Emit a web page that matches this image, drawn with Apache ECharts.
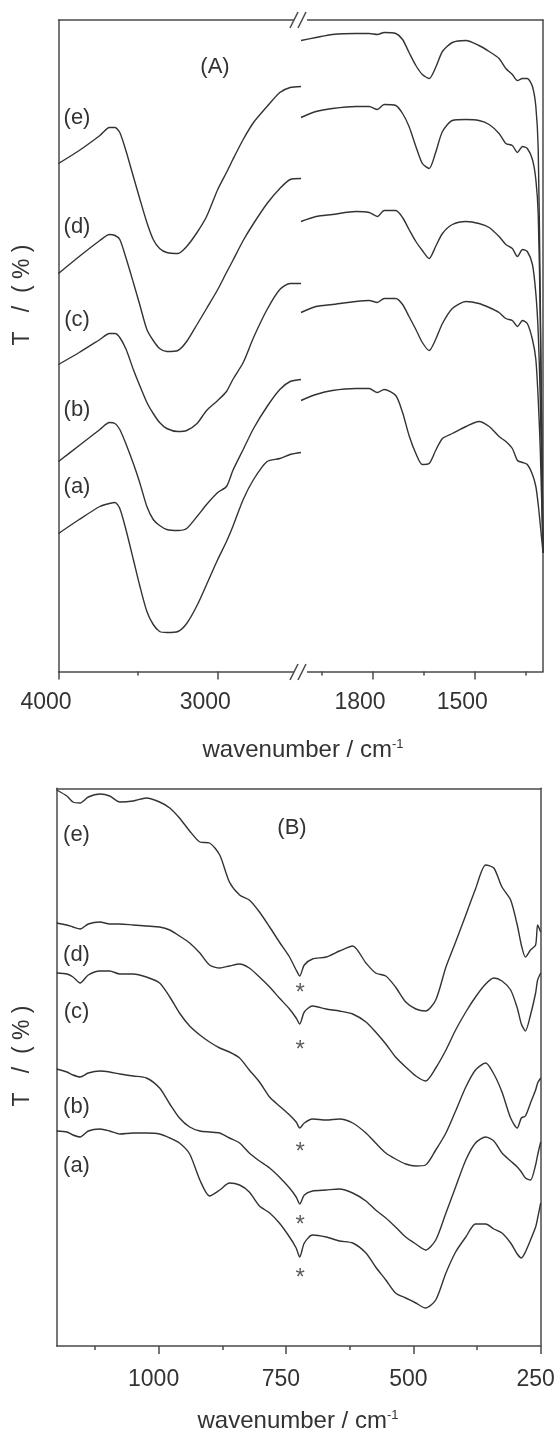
<!DOCTYPE html>
<html><head><meta charset="utf-8">
<script src="https://cdn.jsdelivr.net/npm/echarts@6/dist/echarts.min.js"></script>
<style>html,body{margin:0;padding:0;background:#fff}#c{width:558px;height:1434px}</style>
</head><body><div id="c"></div>
<script>
// ---------- Panel A, 4000-2477 cm-1 segment ----------
const aHighWn = [4000,3870,3740,3680,3645,3615,3575,3530,3490,3445,3405,3365,3320,3250,3195,3130,3070,3000,2945,2905,2840,2775,2690,2610,2545,2477];
const aHigh_e = [508,521,536,544,544,539,520,495,473,449,432,423,419,418,425,439,455,482,499,512,532,549,565,579,584,585];
const aHigh_d = [398,415,431,437,436,432,413,389,367,342,331,323,320,321,330,347,363,382,399,411,431,448,468,483,492,493];
const aHigh_c = [307,319,332,338,338,334,322,302,286,269,258,249,243,240,241,248,261,271,280,292,309,334,362,382,388,388];
const aHigh_b = [210,226,242,249,248,242,227,208,189,165,152,146,142,141,143,155,167,179,185,201,222,243,265,282,290,292];
const aHigh_a = [138,152,165,168,169,163,141,112,86,60,47,40,39,40,48,66,87,112,130,145,172,192,210,213,217,219];

// ---------- Panel A, 2010-1300 cm-1 segment ----------
const aLowWn = [2010,1966,1918,1849,1810,1786,1766,1732,1712,1693,1673,1654,1634,1615,1595,1566,1526,1488,1458,1429,1409,1390,1375,1360,1346,1331,1321,1314,1308,1300];
const aLow_e = [631,634,637,638,638,637,639,638,632,619,606,597,593,604,620,629,631,626,620,613,603,597,591,593,593,585,565,522,372,119];
const aLow_d = [554,560,563,565,565,562,567,566,558,545,525,508,503,519,540,551,552,551,547,538,528,526,519,525,523,512,492,457,352,119];
const aLow_c = [450,455,457,460,459,455,461,461,454,442,430,421,413,425,438,447,450,448,444,435,427,423,415,422,420,407,378,339,272,119];
const aLow_b = [359,365,367,370,371,369,373,373,367,355,342,329,321,332,348,363,370,368,364,359,353,351,345,351,348,332,312,272,222,119];
const aLow_a = [271,277,281,283,283,279,282,276,259,236,218,207,208,221,233,238,245,250,245,235,230,223,211,209,207,197,185,167,147,119];

// ---------- Panel B, 1200-250 cm-1 ----------
const bWn = [1200,1180,1168,1154,1138,1115,1096,1076,1050,1024,998,978,959,939,919,900,880,861,841,822,802,782,763,743,730,723,714,698,671,645,619,593,574,554,535,515,495,476,456,436,417,397,378,358,342,326,309,296,288,280,270,260,256,250];
const b_e = [556,550,544,543,549,552,550,544,545,548,544,538,528,515,504,503,491,464,451,446,434,419,404,389,376,370,381,387,389,395,400,383,373,370,359,344,337,335,346,379,404,431,457,481,478,459,446,421,401,389,396,401,421,414];
const b_d = [423,421,419,417,422,424,422,422,421,420,419,416,410,403,393,381,378,380,382,378,369,359,348,337,328,322,334,340,337,335,332,324,314,302,289,279,270,265,278,296,316,334,349,362,368,365,356,338,322,315,331,353,366,373];
const b_c = [373,372,369,363,371,375,375,372,372,369,363,349,333,320,311,304,298,294,288,276,264,249,240,231,224,218,223,227,226,227,223,213,203,193,187,182,180,181,196,213,235,259,276,283,272,254,228,218,228,230,243,256,263,268];
const b_b = [277,274,271,269,273,275,274,272,270,268,258,242,228,219,215,214,213,208,203,193,185,178,169,158,149,142,151,155,156,157,153,145,136,128,119,109,102,96,106,133,159,186,203,209,205,193,185,179,174,168,166,181,191,204];
const b_a = [215,214,211,209,215,217,215,212,213,213,212,208,203,192,166,150,156,163,161,154,140,133,123,109,98,89,103,111,109,105,103,93,79,66,53,48,43,38,46,73,94,109,122,122,117,113,103,92,88,94,106,119,128,143];

// asterisk markers (band near 722 cm-1) for curves e,d,c,b,a
const starWn = [722,722,722,722,722];
const starVal = [358,301,199,126,73];

// tick values / labels
const aHighMajor = [4000,3000], aHighMinor = [3500];
const aLowMajor = [1800,1500], aLowMinor = [1950,1650,1350];
const bMajor = [1000,750,500,250], bMinor = [1125,875,625,375];
const curveLabels = ['(e)','(d)','(c)','(b)','(a)'];

const FONT = '"Liberation Sans", Arial, Helvetica, sans-serif';
const INK = '#333333';
const AX = '#4a4a4a';

function pts(xs, ys){ return xs.map((x,i)=>[x, ys[i]]); }

const chart = echarts.init(document.getElementById('c'), null, {renderer:'canvas'});

function xMajor(grid, min, max, ticks, pad, margin){
  return {type:'value', gridIndex:grid, position:'bottom', inverse:true, min, max,
    axisLine:{show:true,onZero:false,lineStyle:{color:AX,width:1.5}},
    axisTick:{show:true,customValues:ticks,length:8,lineStyle:{color:AX,width:1.5}},
    axisLabel:{show:true,customValues:ticks,formatter:v=>String(v),fontSize:23,fontFamily:FONT,color:'#333',margin,padding:[0,pad,0,0]},
    splitLine:{show:false}};
}
function xMinor(grid, min, max, ticks){
  return {type:'value', gridIndex:grid, position:'bottom', inverse:true, min, max,
    axisLine:{show:false,onZero:false},
    axisTick:{show:true,customValues:ticks,length:4,lineStyle:{color:AX,width:1.5}},
    axisLabel:{show:false}, splitLine:{show:false}};
}
function xTop(grid, min, max){
  return {type:'value', gridIndex:grid, position:'top', inverse:true, min, max,
    axisLine:{show:true,onZero:false,lineStyle:{color:AX,width:1.5}},
    axisTick:{show:false}, axisLabel:{show:false}, splitLine:{show:false}};
}
function yLine(grid, pos, max){
  return {type:'value', gridIndex:grid, position:pos, min:0, max,
    axisLine:{show:true,onZero:false,lineStyle:{color:AX,width:1.5}},
    axisTick:{show:false}, axisLabel:{show:false}, splitLine:{show:false}};
}
function line(xi, yi, data){
  return {type:'line', xAxisIndex:xi, yAxisIndex:yi, data, showSymbol:false, symbol:'none',
    smooth:0.25, lineStyle:{color:INK,width:1.4}, silent:true, animation:false};
}

const series = [];
[aHigh_e,aHigh_d,aHigh_c,aHigh_b,aHigh_a].forEach(a=>series.push(line(0,0,pts(aHighWn,a))));
[aLow_e,aLow_d,aLow_c,aLow_b,aLow_a].forEach(a=>series.push(line(3,1,pts(aLowWn,a))));
[b_e,b_d,b_c,b_b,b_a].forEach(a=>series.push(line(6,2,pts(bWn,a))));
series.push({type:'scatter', xAxisIndex:6, yAxisIndex:2, data:pts(starWn,starVal), symbolSize:0,
  label:{show:true, position:'inside', formatter:'*', fontSize:24, fontFamily:FONT, color:'#333', offset:[0,5]},
  silent:true, animation:false});

function txt(x, y, text, size, extra){
  return Object.assign({type:'text', x, y, z:100, silent:true,
    style:{text, fontSize:size, fontFamily:FONT, fill:'#333', align:'center', verticalAlign:'middle',
      textAlign:'center', textVerticalAlign:'middle'}}, extra||{});
}
function seg(x1,y1,x2,y2){
  return {type:'line', z:101, silent:true, shape:{x1,y1,x2,y2}, style:{stroke:AX, lineWidth:1.5}};
}
const graphics = [
  {type:'rect', z:100, silent:true, shape:{x:294,y:15,width:13,height:10}, style:{fill:'#fff'}},
  {type:'rect', z:100, silent:true, shape:{x:294,y:667,width:13,height:10}, style:{fill:'#fff'}},
  seg(290,28,298,12), seg(298,28,306,12),
  seg(290,680,298,664), seg(298,680,306,664),
  txt(215,67,'(A)',22),
  txt(292,828,'(B)',22),
  {type:'text', x:23, y:295, rotation:Math.PI/2, z:100, silent:true,
    style:{text:'T   /  ( % )', fontSize:23, fontFamily:FONT, fill:'#333', align:'center', verticalAlign:'middle', textAlign:'center', textVerticalAlign:'middle'}},
  {type:'text', x:23, y:1056, rotation:Math.PI/2, z:100, silent:true,
    style:{text:'T   /  ( % )', fontSize:23, fontFamily:FONT, fill:'#333', align:'center', verticalAlign:'middle', textAlign:'center', textVerticalAlign:'middle'}},
  {type:'text', x:303, y:750, z:100, silent:true,
    style:{text:'{m|wavenumber / cm}{s|-1}', align:'center', verticalAlign:'middle', textAlign:'center', textVerticalAlign:'middle',
      rich:{m:{fontSize:24,fontFamily:FONT,fill:'#333',color:'#333'}, s:{fontSize:13,fontFamily:FONT,fill:'#333',color:'#333',verticalAlign:'top'}}}},
  {type:'text', x:298, y:1421, z:100, silent:true,
    style:{text:'{m|wavenumber / cm}{s|-1}', align:'center', verticalAlign:'middle', textAlign:'center', textVerticalAlign:'middle',
      rich:{m:{fontSize:24,fontFamily:FONT,fill:'#333',color:'#333'}, s:{fontSize:13,fontFamily:FONT,fill:'#333',color:'#333',verticalAlign:'top'}}}}
];
const aLabY = [118,227,320,410,487];
const bLabY = [835,955,1012,1107,1166];
curveLabels.forEach((t,i)=>{ graphics.push(txt(77,aLabY[i],t,22)); graphics.push(txt(76.5,bLabY[i],t,22)); });

chart.setOption({
  animation:false,
  backgroundColor:'#fff',
  grid:[
    {left:58.5, top:20, width:242.5, height:651.5},
    {left:301, top:20, width:242, height:651.5},
    {left:56.7, top:788.3, width:484, height:557.7}
  ],
  xAxis:[
    xMajor(0,2477,4000,aHighMajor,25,20), xMinor(0,2477,4000,aHighMinor), xTop(0,2477,4000),
    xMajor(1,1300,2010,aLowMajor,25,20), xMinor(1,1300,2010,aLowMinor), xTop(1,1300,2010),
    xMajor(2,250,1200,bMajor,10,22), xMinor(2,250,1200,bMinor), xTop(2,250,1200)
  ],
  yAxis:[
    yLine(0,'left',651.5), yLine(1,'right',651.5), yLine(2,'left',557.7), yLine(2,'right',557.7)
  ],
  series,
  graphic:graphics
});
</script></body></html>
